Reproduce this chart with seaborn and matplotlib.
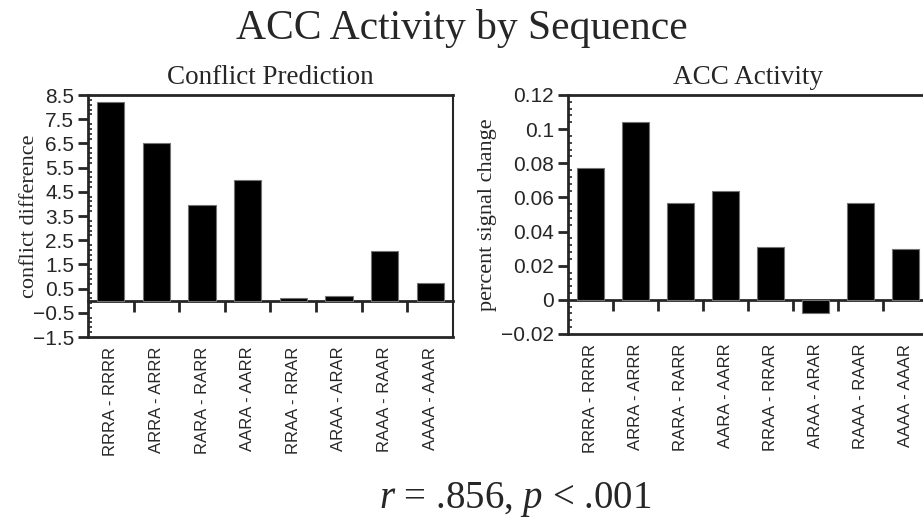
import numpy as np
import pandas as pd
import matplotlib
matplotlib.use("Agg")
import matplotlib.pyplot as plt
import seaborn as sns
from matplotlib.ticker import AutoMinorLocator

# data
sequences = ["RRRA - RRRR", "ARRA - ARRR", "RARA - RARR", "AARA - AARR",
             "RRAA - RRAR", "ARAA - ARAR", "RAAA - RAAR", "AAAA - AAAR"]
conflict_diff = [8.2, 6.5, 3.95, 5.0, 0.12, 0.18, 2.05, 0.72]
signal_change = [0.077, 0.104, 0.057, 0.064, 0.031, -0.008, 0.057, 0.030]

conflict_ticks = [-1.5, -0.5, 0.5, 1.5, 2.5, 3.5, 4.5, 5.5, 6.5, 7.5, 8.5]
conflict_labels = ["\u22121.5", "\u22120.5", "0.5", "1.5", "2.5", "3.5",
                   "4.5", "5.5", "6.5", "7.5", "8.5"]
signal_ticks = [-0.02, 0, 0.02, 0.04, 0.06, 0.08, 0.1, 0.12]
signal_labels = ["\u22120.02", "0", "0.02", "0.04", "0.06", "0.08",
                 "0.1", "0.12"]

sns.set_style("ticks")
plt.rcParams["font.family"] = ["Liberation Sans", "DejaVu Sans"]
plt.rcParams["mathtext.fontset"] = "custom"
plt.rcParams["mathtext.rm"] = "Liberation Serif"
plt.rcParams["mathtext.it"] = "Liberation Serif:italic"
SERIF = ["Liberation Serif", "DejaVu Serif"]

df = pd.DataFrame({"sequence": sequences,
                   "conflict": conflict_diff,
                   "signal": signal_change})

fig = plt.figure(figsize=(9.23, 5.22), dpi=100)
ax1 = fig.add_axes([0.0953, 0.3544, 0.3955, 0.4636])
ax2 = fig.add_axes([0.6154, 0.3602, 0.3900, 0.4579])

panels = [
    (ax1, "conflict", "Conflict Prediction", "conflict difference",
     (-1.5, 8.5), conflict_ticks, conflict_labels, -0.134),
    (ax2, "signal", "ACC Activity", "percent signal change",
     (-0.02, 0.12), signal_ticks, signal_labels, -0.197),
]

for ax, col, title, ylabel, ylim, ticks, labels, lab_x in panels:
    sns.barplot(data=df, x="sequence", y=col, color="black",
                edgecolor="0.45", linewidth=0.8, width=0.6,
                saturation=1, ax=ax)
    ax.set_xlim(-0.5, len(sequences) - 0.5)
    ax.set_ylim(*ylim)
    ax.set_yticks(ticks)
    ax.set_yticklabels(labels)
    ax.yaxis.set_minor_locator(AutoMinorLocator(5))
    ax.tick_params(axis="y", which="major", direction="out", length=7,
                   width=2, labelsize=15, pad=3)
    ax.tick_params(axis="y", which="minor", direction="in", length=3,
                   width=1.2)
    ax.tick_params(axis="x", length=0, labelsize=12, rotation=90, pad=7)
    for side in ["left", "top", "bottom"]:
        ax.spines[side].set_linewidth(2)
    ax.spines["right"].set_linewidth(1.5)
    ax.set_xlabel("")
    ax.set_ylabel(ylabel, family=SERIF, fontsize=16)
    ax.yaxis.set_label_coords(lab_x, 0.5)
    ax.set_title(title, family=SERIF, fontsize=19.5, pad=8)

    # zero line with category separators pointing down
    zero_frac = (0 - ylim[0]) / (ylim[1] - ylim[0])
    sec = ax.secondary_xaxis(zero_frac)
    sec.set_xticks(np.arange(0.5, len(sequences) - 0.5, 1.0))
    sec.tick_params(direction="out", length=8, width=2, labelbottom=False,
                    labeltop=False)
    sec.spines["bottom"].set_linewidth(2)

fig.text(0.5, 0.925, "ACC Activity by Sequence", family=SERIF,
         fontsize=30, ha="center", va="baseline")
fig.text(0.558, 0.027, r"$r$ = .856, $p$ < .001", family=SERIF,
         fontsize=28, ha="center", va="baseline")

fig.savefig("out.png", dpi=100)
